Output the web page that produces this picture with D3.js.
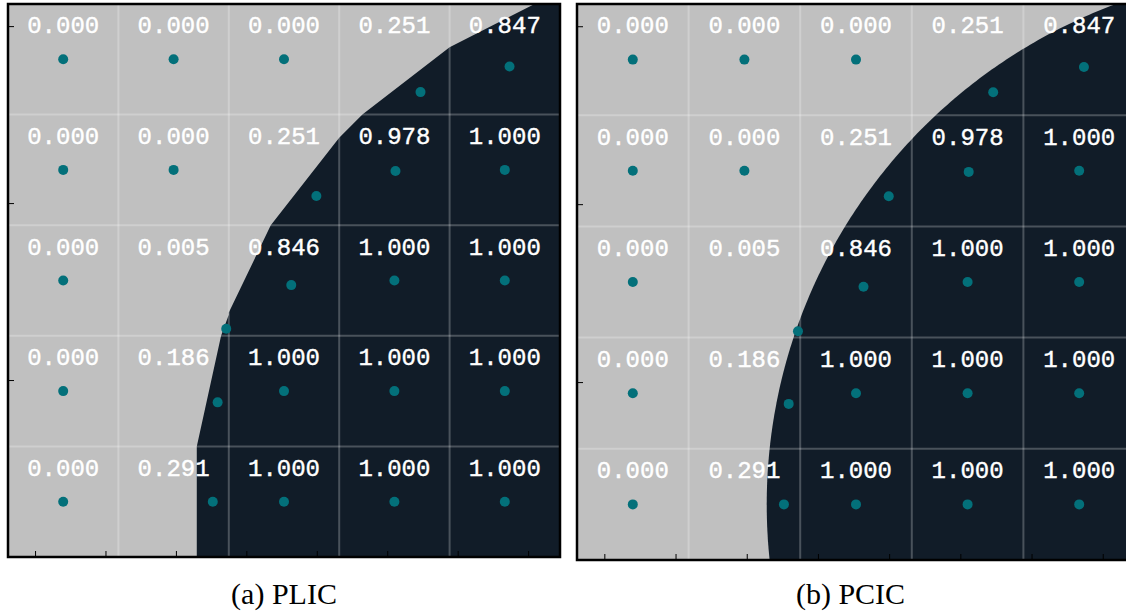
<!DOCTYPE html>
<html>
<head>
<meta charset="utf-8">
<script src="https://cdn.jsdelivr.net/npm/d3@7"></script>
<style>
  html, body { margin: 0; padding: 0; background: #ffffff; overflow: hidden; }
  svg { display: block; }
</style>
</head>
<body>
<svg id="chart" width="1126" height="613"></svg>
<script>
// Volume fraction of the dark phase in each cell, listed top row first.
const fractionRow0 = [0.000, 0.000, 0.000, 0.251, 0.847];
const fractionRow1 = [0.000, 0.000, 0.251, 0.978, 1.000];
const fractionRow2 = [0.000, 0.005, 0.846, 1.000, 1.000];
const fractionRow3 = [0.000, 0.186, 1.000, 1.000, 1.000];
const fractionRow4 = [0.000, 0.291, 1.000, 1.000, 1.000];
const fractionRows = [fractionRow0, fractionRow1, fractionRow2, fractionRow3, fractionRow4];

// Piecewise-linear interface (cell units, origin at bottom-left of the grid)
const plicX = [1.71, 1.71, 1.93, 2.00, 2.00, 2.38, 3.00, 3.21, 4.00, 4.77];
const plicY = [0.00, 1.00, 2.00, 2.19, 2.21, 3.00, 3.79, 4.00, 4.61, 5.00];

// Piecewise-circular interface: one circle (cell units)
const circleCenterX = 6.5;
const circleCenterY = 0.5;
const circleRadius = 4.8;

// Axis tick positions (cell units)
const xTickValues = [0.245, 0.883, 1.521, 2.159, 2.797, 3.435, 4.073, 4.711];
const yTickValues = [1.6, 3.2, 4.8];

const panelCaptions = ["(a) PLIC", "(b) PCIC"];

const nCells = 5;
const colLight = "#c0c0c0";
const colDark = "#111c28";
const colDot = "#03707a";

const svg = d3.select("#chart");

// Panel frames in pixels
const panels = [
  { x0: 8,   x1: 560,  y0: 4, y1: 557 },
  { x0: 577, x1: 1135, y0: 4, y1: 560 }
];

// Dark region polygons in cell units
const plicPoly = plicX.map((x, i) => [x, plicY[i]]).concat([[5, 5], [5, 0]]);
const circlePoly = d3.range(0, 720).map(i => {
  const t = i / 720 * 2 * Math.PI;
  return [circleCenterX + circleRadius * Math.cos(t), circleCenterY + circleRadius * Math.sin(t)];
});
const darkPolys = [plicPoly, circlePoly];

// Sutherland–Hodgman clip of a polygon against an axis-aligned box
function clipToBox(poly, xa, xb, ya, yb) {
  const planes = [
    [p => p[0] >= xa, (p, q) => lerpX(p, q, xa)],
    [p => p[0] <= xb, (p, q) => lerpX(p, q, xb)],
    [p => p[1] >= ya, (p, q) => lerpY(p, q, ya)],
    [p => p[1] <= yb, (p, q) => lerpY(p, q, yb)]
  ];
  function lerpX(p, q, xv) { const t = (xv - p[0]) / (q[0] - p[0]); return [xv, p[1] + t * (q[1] - p[1])]; }
  function lerpY(p, q, yv) { const t = (yv - p[1]) / (q[1] - p[1]); return [p[0] + t * (q[0] - p[0]), yv]; }
  let out = poly;
  for (const [inside, cut] of planes) {
    const inp = out; out = [];
    if (!inp.length) break;
    for (let i = 0; i < inp.length; i++) {
      const cur = inp[i], prev = inp[(i + inp.length - 1) % inp.length];
      const ci = inside(cur), pi = inside(prev);
      if (ci) { if (!pi) out.push(cut(prev, cur)); out.push(cur); }
      else if (pi) out.push(cut(prev, cur));
    }
  }
  return out;
}

panels.forEach((p, k) => {
  const x = d3.scaleLinear().domain([0, nCells]).range([p.x0, p.x1]);
  const y = d3.scaleLinear().domain([0, nCells]).range([p.y1, p.y0]);
  const g = svg.append("g");
  const clipId = "clip" + k;
  svg.append("defs").append("clipPath").attr("id", clipId)
    .append("rect").attr("x", p.x0).attr("y", p.y0)
    .attr("width", p.x1 - p.x0).attr("height", p.y1 - p.y0);

  // background phase
  g.append("rect").attr("x", p.x0).attr("y", p.y0)
    .attr("width", p.x1 - p.x0).attr("height", p.y1 - p.y0)
    .attr("fill", colLight);

  // dark phase
  const line = d3.line().x(d => x(d[0])).y(d => y(d[1]));
  g.append("path").attr("d", line(darkPolys[k]) + "Z")
    .attr("fill", colDark).attr("clip-path", `url(#${clipId})`);

  // grid lines
  const inner = d3.range(1, nCells);
  g.selectAll(".gv").data(inner).join("line")
    .attr("x1", d => x(d)).attr("x2", d => x(d))
    .attr("y1", y(0)).attr("y2", y(nCells))
    .attr("stroke", "rgba(255,255,255,0.24)").attr("stroke-width", 2);
  g.selectAll(".gh").data(inner).join("line")
    .attr("y1", d => y(d)).attr("y2", d => y(d))
    .attr("x1", x(0)).attr("x2", x(nCells))
    .attr("stroke", "rgba(255,255,255,0.24)").attr("stroke-width", 2);

  // inward ticks
  const ax = g.append("g").attr("transform", `translate(0,${p.y1})`)
    .call(d3.axisBottom(x).tickValues(xTickValues).tickSize(-6).tickFormat(""));
  const ay = g.append("g").attr("transform", `translate(${p.x0},0)`)
    .call(d3.axisLeft(y).tickValues(yTickValues).tickSize(-6).tickFormat(""));
  [ax, ay].forEach(a => {
    a.select(".domain").remove();
    a.selectAll("line").attr("stroke", "#000").attr("stroke-width", 1);
  });

  // frame
  g.append("rect").attr("x", p.x0).attr("y", p.y0)
    .attr("width", p.x1 - p.x0).attr("height", p.y1 - p.y0)
    .attr("fill", "none").attr("stroke", "#000").attr("stroke-width", 2.5);

  // cells
  const cells = [];
  fractionRows.forEach((row, r) => row.forEach((v, c) => {
    const yb = nCells - 1 - r, yt = nCells - r;
    const piece = clipToBox(darkPolys[k], c, c + 1, yb, yt);
    let cx = c + 0.5, cy = yb + 0.5;
    if (piece.length > 2 && Math.abs(d3.polygonArea(piece)) > 1e-6) {
      [cx, cy] = d3.polygonCentroid(piece);
    }
    cells.push({ v, c, r, top: yt, cx, cy });
  }));

  g.selectAll(".dot").data(cells).join("circle")
    .attr("cx", d => x(d.cx)).attr("cy", d => y(d.cy))
    .attr("r", 5).attr("fill", colDot);

  g.selectAll(".lbl").data(cells).join("text")
    .attr("x", d => x(d.c + 0.5)).attr("y", d => y(d.top - 0.265))
    .attr("text-anchor", "middle")
    .attr("font-family", "'Liberation Mono', 'DejaVu Sans Mono', monospace")
    .attr("font-size", 24).attr("fill", "#ffffff")
    .attr("stroke", "#ffffff").attr("stroke-width", 0.4)
    .text(d => d.v.toFixed(3));

  svg.append("text")
    .attr("x", (p.x0 + Math.min(p.x1, 1130)) / 2 + (k === 1 ? -3 : 0))
    .attr("y", 604)
    .attr("text-anchor", "middle")
    .attr("font-family", "'Liberation Serif', 'Times New Roman', serif")
    .attr("font-size", 30).attr("fill", "#000")
    .text(panelCaptions[k]);
});
</script>
</body>
</html>
